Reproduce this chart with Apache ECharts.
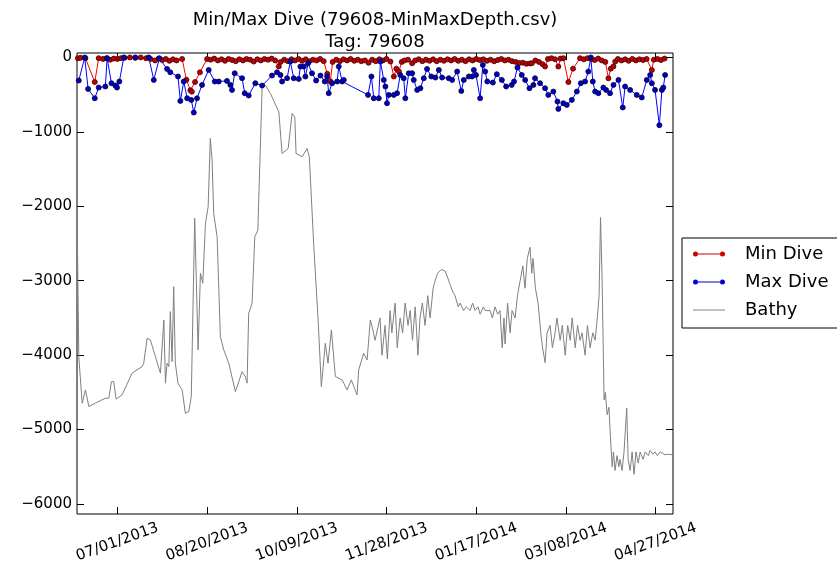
<!DOCTYPE html>
<html><head><meta charset="utf-8">
<script src="https://cdn.jsdelivr.net/npm/echarts@6/dist/echarts.min.js"></script>
<style>html,body{margin:0;padding:0;background:#fff}#c{width:837px;height:568px}</style>
</head><body><div id="c"></div>
<script>
// x values are days since 07/01/2013
const minDays = [-22,-20.5,-17.8,-12.6,-10.4,-8,-6,-4,-2,0,2,4,7,10,13,16,18.5,21,23,25,27,29,31,33,36.1,38.5,40.7,41.5,43.3,46,50,52,54,56,58,60,62,64,66,68,70,72,74,76,78,80,82,84,86,88,90,91,93,95,97,99,101,103,105,107,109,111,113,115,117,118.7,120,122,124,126,128,130,132,134,136,138,140,142,144,146,148,150,152.2,154.1,155.5,156.9,158.5,160,162,164.3,166,168,170,172,174,176,178,180,182,184,186,188,190,192,194,196,198,200,202,204,206,208,210,212,214,216,218,220,222,224,226,228,230,231,233,235,237,238.4,240,242,244,245.8,247,248.6,251.4,254,257.9,260,262,264,266,268,270,272,273.7,275,276.5,277.5,279,281,283,285,287,289,291,293,295,297.9,299,301,303,305];
const minDepth = [-10,-5,-10,-330,-10,-20,-10,-30,-15,-20,-10,-5,0,-5,0,-10,-20,-40,-15,-35,-20,-45,-25,-40,-20,-300,-440,-460,-330,-200,-20,-30,-15,-40,-25,-45,-20,-35,-50,-25,-40,-20,-30,-55,-25,-40,-20,-30,-15,-40,-120,-60,-30,-50,-25,-40,-20,-45,-25,-50,-30,-40,-20,-50,-220,-320,-60,-30,-50,-25,-40,-20,-45,-30,-50,-40,-70,-30,-50,-25,-40,-20,-55,-256,-150,-189,-60,-40,-30,-78,-40,-25,-50,-30,-45,-25,-50,-30,-45,-25,-40,-20,-45,-30,-50,-25,-40,-20,-35,-25,-45,-30,-50,-35,-20,-40,-30,-50,-60,-75,-70,-85,-80,-78,-40,-60,-90,-122,-20,-10,-25,-122,-15,-10,-330,-150,-10,-25,-10,-20,-35,-15,-40,-60,-280,-150,-120,-55,-20,-40,-25,-45,-20,-40,-25,-35,-20,-170,-30,-20,-35,-15];

const maxDays = [-21.5,-18.2,-16.3,-12.6,-10.4,-6.7,-5.7,-3.3,-1.1,-0.2,1.1,3.6,10,17.5,20.3,23.4,27.7,29.5,33.8,35.1,37.0,38.9,41.2,42.6,44.4,47.2,50.9,54.3,56.5,61.1,63.0,63.9,65.4,69.5,71.0,73.2,76.9,80.7,86.2,89.0,90.9,91.8,94.6,96.4,98.3,101.1,102.0,103.9,104.8,106.3,108.5,110.8,113.2,115.6,116.9,117.8,119.7,122.5,123.4,125.3,126.2,139.7,141.6,142.9,145.7,146.6,148.5,149.4,150.3,151.3,154.1,155.9,157.7,159.6,160.5,162.4,164.3,165.2,167.1,168.9,170.8,172.6,175.0,177.3,179.2,181.0,184.7,186.6,189.4,191.7,193.1,195.9,197.7,198.7,199.9,202.2,203.7,205.0,206.2,209.3,211.5,214.3,216.7,219.8,221.1,223.0,225.4,227.3,229.7,231.9,232.8,235.6,238.4,240.2,243.0,245.3,245.8,248.6,250.5,253.3,256.1,258.3,260.7,262.5,263.9,265.0,266.3,268.1,270.9,272.4,274.6,276.5,279.3,281.7,283.0,285.8,289.5,292.3,295.1,297.0,297.9,299.7,302.1,303.5,304.3,305.3];
const maxDepth = [-310,0,-423,-548,-404,-390,-10,-346,-377,-404,-323,0,0,0,-302,-11,-154,-199,-256,-584,-323,-548,-570,-740,-548,-369,-168,-323,-323,-315,-369,-436,-212,-279,-480,-511,-346,-377,-243,-199,-235,-323,-279,-55,-279,-288,-122,-122,-256,-78,-212,-310,-243,-323,-256,-480,-346,-323,-122,-323,-302,-503,-256,-548,-548,-55,-302,-390,-615,-503,-503,-480,-235,-279,-548,-212,-212,-302,-436,-413,-279,-154,-256,-270,-168,-270,-279,-302,-189,-450,-302,-256,-256,-168,-235,-548,-100,-189,-323,-337,-225,-302,-390,-369,-323,-136,-235,-302,-413,-369,-279,-346,-413,-503,-458,-592,-691,-615,-637,-570,-458,-346,-323,-189,0,-323,-458,-480,-404,-436,-480,-369,-302,-672,-390,-436,-503,-538,-302,-235,-346,-436,-910,-436,-404,-235];

const bathyDays = [-22.5,-21.5,-19.6,-17.8,-15.9,-12.3,-6.7,-4.8,-3.3,-2.0,-0.7,2.6,8.2,13.8,14.7,16.6,18.4,21.2,24.0,25.9,26.8,27.7,28.7,29.5,30.5,31.4,32.3,33.8,36.1,37.9,39.8,41.2,43.1,45.0,46.3,47.6,49.1,50.6,51.8,52.8,53.7,55.6,57.4,59.3,62.1,65.8,67.7,69.5,71.3,72.3,73.2,75.1,76.6,78.3,80.7,82.5,85.3,90.0,91.8,95.2,97.4,98.9,99.6,103.0,105.7,107.0,109.5,111.9,113.7,115.9,117.4,119.3,121.5,125.3,128.0,130.4,131.8,133.6,134.5,137.3,139.2,141.0,142.0,143.6,146.4,147.5,149.2,150.5,152.0,153,154.8,156,157.6,159,160.4,162,163.2,164.5,166.0,167.5,168.7,170,171.5,173,174.3,176,177.1,178.5,180.5,182.7,184,185.4,187,188.2,190,191,193,194.5,196.6,198,199.4,201,202.2,204,205,207.7,209,210.5,212,213.3,214.5,215.5,216.1,217.5,218.9,220,221.7,223,224.5,226,227.2,228.5,230.0,231,231.7,233,234.5,236,237,238.4,239.5,241.2,242.5,244.0,245,246.8,248,249.6,251,252.4,253.5,255.2,256.5,257.9,259,260.7,262,263.5,265,266.3,267.5,268.5,269.3,270.2,271.3,272,273.0,274,274.6,275.8,276.5,277.4,278.5,279.5,280.2,281.3,282.4,283.9,284.7,285.8,286.9,288.0,289.1,290.3,291.4,293,294.2,296,296.9,298.5,299.7,301,302.5,304,305.3,307,308.1,309.7];
const bathyDepth = [-2000,-4019,-4645,-4466,-4690,-4645,-4578,-4578,-4355,-4355,-4591,-4533,-4242,-4153,-4108,-3772,-3795,-4019,-4242,-3527,-4376,-4108,-4153,-3415,-4086,-3080,-4108,-4376,-4466,-4780,-4757,-4556,-2162,-3929,-2900,-3034,-2229,-2006,-1088,-1380,-2095,-2409,-3750,-3929,-4108,-4489,-4355,-4221,-4288,-4376,-3437,-3303,-2409,-2319,-396,-373,-484,-731,-1290,-1223,-753,-800,-1290,-1335,-1223,-1335,-2543,-3527,-4422,-3840,-4108,-3661,-4288,-4332,-4466,-4332,-4422,-4533,-4198,-3974,-4064,-3527,-3616,-3800,-3500,-4000,-3600,-4050,-3400,-3700,-3300,-3900,-3500,-3700,-3300,-3600,-3400,-3800,-3350,-4000,-3500,-3300,-3600,-3200,-3500,-3100,-3000,-2900,-2850,-2870,-2950,-3050,-3150,-3200,-3350,-3300,-3400,-3350,-3400,-3300,-3400,-3350,-3450,-3350,-3400,-3400,-3500,-3350,-3450,-3400,-3900,-3500,-3850,-3300,-3700,-3400,-3500,-3200,-3000,-2800,-3100,-2700,-2550,-2900,-2700,-3100,-3300,-3700,-3900,-4100,-3700,-3600,-3900,-3700,-3500,-3800,-3600,-4000,-3600,-3800,-3500,-3900,-3600,-3800,-3700,-4000,-3600,-3900,-3700,-3800,-3500,-3200,-2150,-3000,-4600,-4500,-4800,-4700,-5000,-5500,-5300,-5550,-5350,-5500,-5400,-5550,-5300,-4712,-5400,-5550,-5300,-5600,-5300,-5450,-5300,-5400,-5300,-5350,-5280,-5330,-5300,-5350,-5300,-5320,-5340,-5330,-5350,-5340];

const xTickDays = [0,50,100,150,200,250,300];
const yTicks = [-6000,-5000,-4000,-3000,-2000,-1000,0];
const seriesNames = ['Min Dive','Max Dive','Bathy'];
const titleLine1 = 'Min/Max Dive (79608-MinMaxDepth.csv)';
const titleLine2 = 'Tag: 79608';

const baseDate = Date.UTC(2013,6,1);
function fmtDate(d){
  const t = new Date(baseDate + Math.round(d)*86400000);
  const p = n => (n<10?'0':'')+n;
  return p(t.getUTCMonth()+1)+'/'+p(t.getUTCDate())+'/'+t.getUTCFullYear();
}
function zip(a,b){ return a.map((v,i)=>[v,b[i]]); }

const FONT = 'DejaVu Sans';
const xMin = -22.5, xMax = 309.7, yMin = -6134, yMax = 60;
const dotLineIcon = 'path://M0,2.5a2.5,2.5 0 1,0 5,0a2.5,2.5 0 1,0 -5,0Z M27,2.5a2.5,2.5 0 1,0 5,0a2.5,2.5 0 1,0 -5,0Z M5,2H27V3H5Z';
const plainLineIcon = 'path://M0,0H32V1.1H0Z';
const chart = echarts.init(document.getElementById('c'), null, {renderer:'canvas'});
const tickStyle = {inside:true, length:7, lineStyle:{color:'#000', width:1}};
const hiddenLine = {show:false, onZero:false};
chart.setOption({
  animation:false,
  backgroundColor:'#fff',
  textStyle:{fontFamily:FONT},
  title:[
    {text:titleLine1, left:375, top:9, textAlign:'center', padding:0,
     textStyle:{fontSize:18, fontWeight:'normal', color:'#000', fontFamily:FONT, lineHeight:22}},
    {text:titleLine2, left:375, top:31, textAlign:'center', padding:0,
     textStyle:{fontSize:18, fontWeight:'normal', color:'#000', fontFamily:FONT, lineHeight:22}}
  ],
  grid:{left:77, top:53, width:596, height:461, show:true, borderColor:'#000', borderWidth:1, backgroundColor:'transparent'},
  legend:{
    data:[
      {name:seriesNames[0], icon:dotLineIcon, itemStyle:{color:'#d00000', borderWidth:0}},
      {name:seriesNames[1], icon:dotLineIcon, itemStyle:{color:'#0000d0', borderWidth:0}},
      {name:seriesNames[2], icon:plainLineIcon, itemStyle:{color:'#909090', borderWidth:0}}
    ],
    orient:'vertical', left:682, top:238, symbolKeepAspect:true,
    padding:[6,40,8,11], itemGap:8, itemWidth:32, itemHeight:6,
    borderColor:'#000', borderWidth:1, borderRadius:0, backgroundColor:'#fff',
    textStyle:{fontSize:18, color:'#000', fontFamily:FONT, lineHeight:20, padding:[0,0,0,15]}
  },
  xAxis:[
    {type:'value', min:xMin, max:xMax, position:'bottom',
     axisLine:hiddenLine, splitLine:{show:false},
     axisTick:Object.assign({customValues:xTickDays}, tickStyle),
     axisLabel:{customValues:xTickDays, formatter:fmtDate, rotate:20, align:'center', verticalAlign:'middle',
       margin:28, fontSize:15, color:'#000', fontFamily:FONT}},
    {type:'value', min:xMin, max:xMax, position:'top',
     axisLine:hiddenLine, splitLine:{show:false},
     axisTick:Object.assign({customValues:xTickDays}, tickStyle),
     axisLabel:{show:false}}
  ],
  yAxis:[
    {type:'value', min:yMin, max:yMax, position:'left',
     axisLine:hiddenLine, splitLine:{show:false},
     axisTick:Object.assign({customValues:yTicks}, tickStyle),
     axisLabel:{customValues:yTicks, formatter:v=>String(v).replace('-','\u2212'), margin:5,
       fontSize:15, color:'#000', fontFamily:FONT}},
    {type:'value', min:yMin, max:yMax, position:'right',
     axisLine:hiddenLine, splitLine:{show:false},
     axisTick:Object.assign({customValues:yTicks}, tickStyle),
     axisLabel:{show:false}}
  ],
  series:[
    {name:seriesNames[0], type:'line', data:zip(minDays,minDepth), symbol:'circle', symbolSize:5,
     lineStyle:{color:'#ff0000', width:1}, itemStyle:{color:'#c00000', borderColor:'#400000', borderWidth:0.8}, z:3},
    {name:seriesNames[1], type:'line', data:zip(maxDays,maxDepth), symbol:'circle', symbolSize:5,
     lineStyle:{color:'#0000ff', width:1}, itemStyle:{color:'#0000c0', borderColor:'#000040', borderWidth:0.8}, z:3},
    {name:seriesNames[2], type:'line', data:zip(bathyDays,bathyDepth), symbol:'none', showSymbol:false,
     lineStyle:{color:'#808080', width:1}, itemStyle:{color:'#808080'}, z:2}
  ]
});
</script></body></html>
